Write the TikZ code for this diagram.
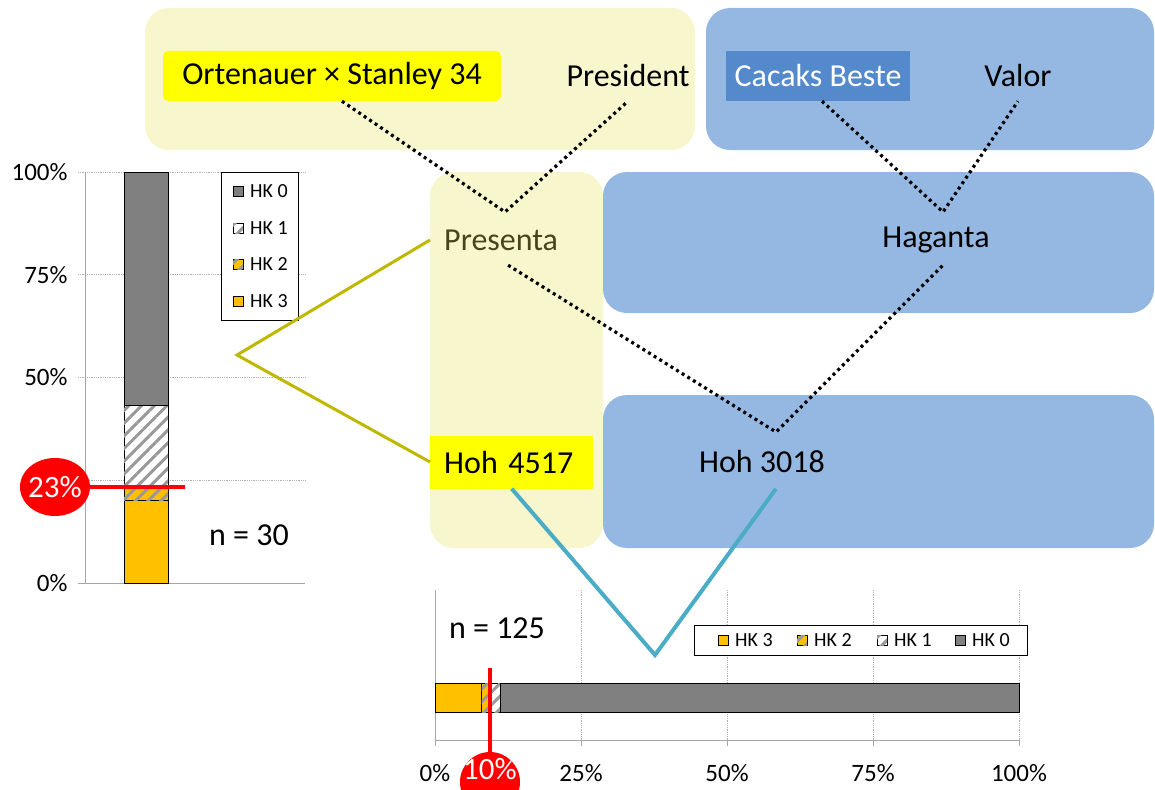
\documentclass[tikz,border=0pt]{standalone}
\usepackage{fontspec}
\setmainfont{Carlito}
\usetikzlibrary{patterns.meta}
\definecolor{paleyel}{RGB}{247,246,205}
\definecolor{paleblue}{RGB}{149,184,227}
\definecolor{deepblue}{RGB}{84,138,204}
\definecolor{hiyel}{RGB}{255,255,0}
\definecolor{hkorange}{RGB}{255,192,0}
\definecolor{hkgray}{RGB}{128,128,128}
\definecolor{olivestroke}{RGB}{190,184,0}
\definecolor{tealstroke}{RGB}{75,172,198}
\definecolor{markred}{RGB}{255,0,0}
\definecolor{darkolive}{RGB}{72,68,28}
\newcommand{\bigtxt}{\fontsize{32}{36}\selectfont}
\newcommand{\axtxt}{\fontsize{25}{28}\selectfont}
\newcommand{\marktxt}{\fontsize{31}{34}\selectfont}
\newcommand{\legtxt}{\fontsize{20}{22}\selectfont}

\begin{document}
\begin{tikzpicture}[x=1pt,y=-1pt,
  lbl/.style={font=\bigtxt, minimum height=50pt, inner sep=0pt},
  dots/.style={line width=3.2pt, dash pattern=on 3pt off 3.6pt},
  hatch/.style={postaction={pattern={Lines[angle=45,distance=9pt,line width=3pt]}, pattern color=hkgray!80}},
  hkzero/.style={fill=hkgray, draw=black, line width=0.8pt},
  hkone/.style={fill=white, draw=black, line width=0.8pt, hatch},
  hktwo/.style={fill=hkorange, draw=black, line width=0.8pt, hatch},
  hkthree/.style={fill=hkorange, draw=black, line width=0.8pt},
  grid/.style={gray!60, densely dotted, line width=0.8pt},
  axis/.style={gray!70, line width=1pt}]
  \useasboundingbox (0,0) rectangle (1155,789);
  % panels
  \fill[paleyel, rounded corners=24pt] (145,8) rectangle (695,150);
  \fill[paleblue, rounded corners=24pt] (706,8) rectangle (1154,150);
  \fill[paleyel, rounded corners=24pt] (430,172) rectangle (603,548);
  \fill[paleblue, rounded corners=24pt] (603,172) rectangle (1154,313);
  \fill[paleblue, rounded corners=24pt] (603,395) rectangle (1154,548);
  % labels
  \node[lbl, fill=hiyel, rounded corners=5pt, minimum width=338pt] (ort) at (332,76) {Ortenauer × Stanley 34};
  \node[lbl] (pres) at (628,76) {President};
  \node[lbl, fill=deepblue, text=white, minimum width=184pt] (cacaks) at (818,76) {Cacaks Beste};
  \node[lbl] (valor) at (1018,76) {Valor};
  \node[lbl, anchor=west, inner xsep=14pt, text=darkolive] (presenta) at (430,240) {Presenta};
  \node[lbl] (haganta) at (936,240) {Haganta};
  \node[lbl, anchor=west, fill=hiyel, inner xsep=14pt, text width=135pt, align=left, minimum height=53pt] (hohA) at (430,462) {Hoh 4517};
  \node[lbl, minimum height=53pt] (hohB) at (762,462) {Hoh 3018};
  % pedigree
  \coordinate (kidA) at (505,212);
  \coordinate (kidB) at (943,212);
  \coordinate (kidC) at (776,432);
  \draw[dots] ([xshift=10pt]ort.south) -- (kidA) -- (pres.south);
  \draw[dots] ([xshift=4pt]cacaks.south) -- (kidB) -- (valor.south);
  \draw[dots] ([xshift=7pt]presenta.south) -- (kidC) -- ([xshift=7pt]haganta.south);

  % left chart: y = 583 - 4.11*p
  \def\ys{4.11}
  \foreach \p in {25,50,75,100}{
     \draw[grid] (78,{583-\ys*\p}) -- (305,{583-\ys*\p});}
  \draw[axis] (85,172) -- (85,583);
  \draw[axis] (78,583) -- (305,583);
  \foreach \p in {0,50,75,100}{
     \node[font=\axtxt, anchor=east] (ly\p) at (71,{583-\ys*\p}) {\p\%};}
  \foreach \lo/\hi/\sty in {0/20/hkthree, 20/23.33/hktwo, 23.33/43.33/hkone, 43.33/100/hkzero}{
     \draw[\sty] (124,{583-\ys*\lo}) rectangle (168,{583-\ys*\hi});}
  \node[font=\bigtxt] (nleft) at (249,535) {n = 30};
  \draw[black, fill=white, line width=0.8pt] (221,172) rectangle (298,320);
  \foreach \y/\sty/\lab in {191/hkzero/HK 0, 228/hkone/HK 1, 264/hktwo/HK 2, 301/hkthree/HK 3}{
     \draw[\sty] (233,\y-5) rectangle (243,\y+5);
     \node[font=\legtxt, anchor=west, inner sep=0pt] (legl\y) at (250,\y) {\lab};}
  \draw[markred, line width=4pt] (30,487) -- (185,487);
  \fill[markred] (55,487) ellipse (35 and 29);
  \node[font=\marktxt, text=white] (mark23) at (55,487) {23\%};

  % bottom chart: x = 435 + 5.84*p
  \def\xs{5.84}
  \foreach \p in {25,50,75,100}{
     \draw[grid] ({435+\xs*\p},590) -- ({435+\xs*\p},740);}
  \draw[axis] (435,590) -- (435,746);
  \draw[axis] (435,740) -- (1019,740);
  \foreach \p in {0,25,50,75,100}{
     \draw[axis] ({435+\xs*\p},740) -- ({435+\xs*\p},746);
     \node[font=\axtxt] (bx\p) at ({435+\xs*\p},773) {\p\%};}
  \foreach \lo/\hi/\sty in {0/8/hkthree, 8/9.6/hktwo, 9.6/11.2/hkone, 11.2/100/hkzero}{
     \draw[\sty] ({435+\xs*\lo},683) rectangle ({435+\xs*\hi},712);}
  \node[font=\bigtxt] (nbot) at (497,628) {n = 125};
  \draw[black, fill=white, line width=0.8pt] (694,625) rectangle (1027,655);
  \foreach \x/\sty/\lab in {718/hkthree/HK 3, 797/hktwo/HK 2, 877/hkone/HK 1, 955/hkzero/HK 0}{
     \draw[\sty] (\x,635) rectangle (\x+10,645);
     \node[font=\legtxt, anchor=west, inner sep=0pt] (legb\x) at (\x+17,640) {\lab};}
  \draw[markred, line width=4pt] (490,668) -- (490,760);
  \fill[markred] (490,782) circle (30);
  \node[font=\marktxt, text=white] (mark10) at (490,769) {10\%};

  % links to the charts
  \coordinate (tipL) at (237,355);
  \coordinate (tipB) at (655,655);
  \draw[olivestroke, line width=3pt] (presenta.west) -- (tipL) -- (hohA.west);
  \draw[tealstroke, line width=4pt] (hohA.south) -- (tipB) -- ([xshift=14pt]hohB.south);
\end{tikzpicture}
\end{document}
